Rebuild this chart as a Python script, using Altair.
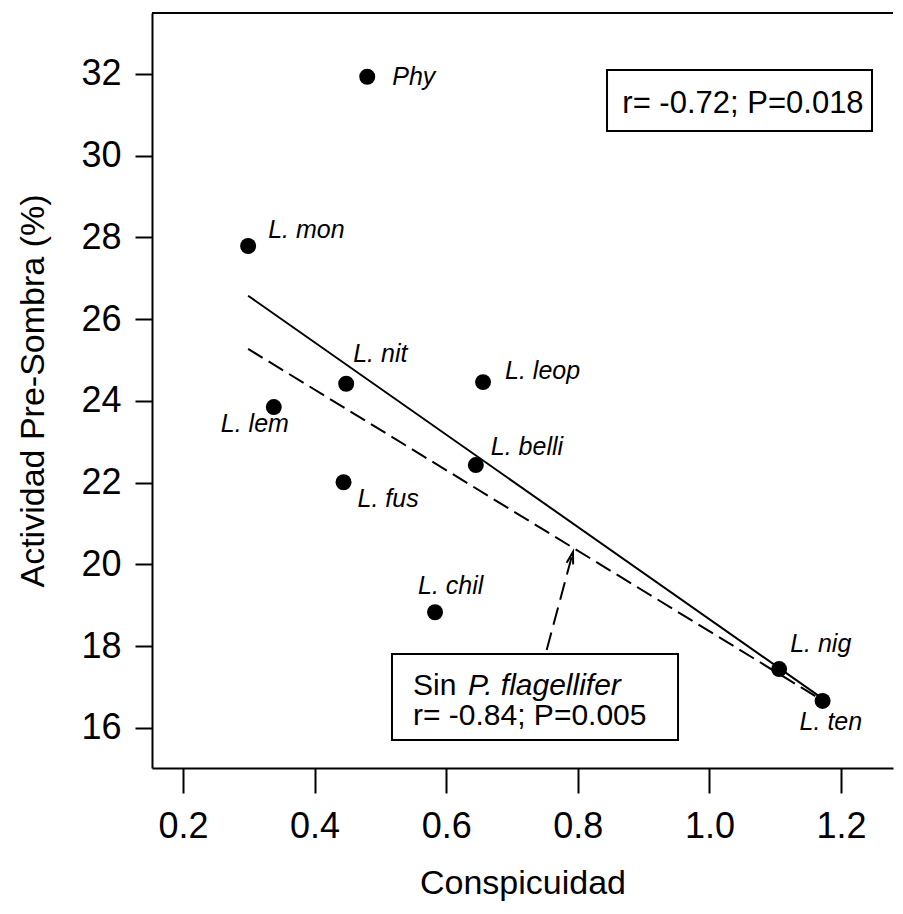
import altair as alt
import pandas as pd

# ---- data ----
species = ["Phy", "L. mon", "L. nit", "L. leop", "L. lem", "L. belli",
           "L. fus", "L. chil", "L. nig", "L. ten"]
conspicuidad = [0.480, 0.299, 0.448, 0.656, 0.338, 0.645, 0.444, 0.583, 1.106, 1.172]
actividad = [31.93, 27.79, 24.42, 24.46, 23.85, 22.43, 22.01, 18.83, 17.44, 16.66]

x_ticks = [0.2, 0.4, 0.6, 0.8, 1.0, 1.2]
y_ticks = [16, 18, 20, 22, 24, 26, 28, 30, 32]

stat_all = "r= -0.72; P=0.018"
stat_sin_1a = "Sin"
stat_sin_1b = "P. flagellifer"
stat_sin_2 = "r= -0.84; P=0.005"

# label offsets (pixels) relative to each point: (dx, dy)
label_offsets = {
    "Phy": (25, 8), "L. mon": (20, -8), "L. nit": (7, -22), "L. leop": (22, -3),
    "L. lem": (-53, 25), "L. belli": (15, -10), "L. fus": (14, 25),
    "L. chil": (-17, -18), "L. nig": (11, -17), "L. ten": (-23, 29),
}

df = pd.DataFrame({"sp": species, "x": conspicuidad, "y": actividad})

FONT = "Liberation Sans"
XDOM = [0.1529, 1.279]
YDOM = [15.02, 33.49]

xs = alt.Scale(domain=XDOM, nice=False, zero=False)
ys = alt.Scale(domain=YDOM, nice=False, zero=False)

X = alt.X("x:Q", scale=xs, axis=alt.Axis(
    title="Conspicuidad", values=x_ticks, format=".1f", tickSize=25,
    labelFontSize=36, labelPadding=16, titleFontSize=34, titlePadding=22,
    titleFontWeight="normal"))
Y = alt.Y("y:Q", scale=ys, axis=alt.Axis(
    title="Actividad Pre-Sombra (%)", values=y_ticks, format="d", tickSize=17,
    labelFontSize=36, labelPadding=14, titleFontSize=34, titlePadding=30,
    titleFontWeight="normal"))

base = alt.Chart(df)

points = base.mark_circle(size=255, color="black", opacity=1).encode(x=X, y=Y)

solid = base.transform_regression("x", "y", method="linear").mark_line(
    color="black", strokeWidth=2).encode(x=alt.X("x:Q", scale=xs), y=alt.Y("y:Q", scale=ys))

dashed = base.transform_filter(alt.datum.sp != "Phy").transform_regression(
    "x", "y", method="linear").mark_line(
    color="black", strokeWidth=2, strokeDash=[17, 7]).encode(
    x=alt.X("x:Q", scale=xs), y=alt.Y("y:Q", scale=ys))

labels = []
for s in species:
    dx, dy = label_offsets[s]
    labels.append(
        base.transform_filter(alt.datum.sp == s).mark_text(
            align="left", baseline="alphabetic", dx=dx, dy=dy, font=FONT,
            fontSize=25, fontStyle="italic", color="black").encode(
            x=alt.X("x:Q", scale=xs), y=alt.Y("y:Q", scale=ys), text="sp:N"))

one = pd.DataFrame({"a": [0]})
ann = alt.Chart(one)

top_border = ann.mark_rule(color="black", strokeWidth=2).encode(
    x=alt.value(0), x2=alt.value(741), y=alt.value(0))

box1 = ann.mark_rect(fill="white", stroke="black", strokeWidth=2).encode(
    x=alt.datum(0.8444, scale=xs), x2=alt.datum(1.2471),
    y=alt.datum(32.098, scale=ys), y2=alt.datum(30.606))
txt1 = ann.mark_text(align="center", baseline="alphabetic", font=FONT,
                     fontSize=31, color="black", text=stat_all).encode(
    x=alt.datum(1.051, scale=xs), y=alt.datum(31.046, scale=ys))

box2 = ann.mark_rect(fill="white", stroke="black", strokeWidth=2).encode(
    x=alt.datum(0.5176, scale=xs), x2=alt.datum(0.9523),
    y=alt.datum(17.81, scale=ys), y2=alt.datum(15.707))
txt2a = ann.mark_text(align="left", baseline="alphabetic", font=FONT,
                      fontSize=30, color="black", text=stat_sin_1a).encode(
    x=alt.datum(0.5495, scale=xs), y=alt.datum(16.807, scale=ys))
txt2b = ann.mark_text(align="left", baseline="alphabetic", font=FONT,
                      fontSize=30, fontStyle="italic", color="black",
                      text=stat_sin_1b).encode(
    x=alt.datum(0.6331, scale=xs), y=alt.datum(16.807, scale=ys))
txt2c = ann.mark_text(align="left", baseline="alphabetic", font=FONT,
                      fontSize=30, color="black", text=stat_sin_2).encode(
    x=alt.datum(0.5495, scale=xs), y=alt.datum(16.073, scale=ys))

arrow_df = pd.DataFrame({"x": [0.7527, 0.7927], "y": [17.908, 20.306]})
arrow_line = alt.Chart(arrow_df).mark_line(
    color="black", strokeWidth=2, strokeDash=[18, 8]).encode(
    x=alt.X("x:Q", scale=xs), y=alt.Y("y:Q", scale=ys))
arrow_head = ann.mark_point(
    shape="M-0.28,1 L0,0 L0.28,1", size=576, filled=False, color="black",
    strokeWidth=2, angle=15, opacity=1).encode(
    x=alt.datum(0.7927, scale=xs), y=alt.datum(20.306, scale=ys))

chart = alt.layer(
    solid, dashed, arrow_line, arrow_head, points, *labels, top_border,
    box1, txt1, box2, txt2a, txt2b, txt2c
).properties(
    width=741, height=755,
    padding={"left": 144, "top": 5, "right": 2, "bottom": 138},
    autosize="none",
    background="white",
).configure_view(stroke=None).configure_axis(
    grid=False, domainColor="black", domainWidth=2, tickColor="black",
    tickWidth=2, labelColor="black", titleColor="black", labelFont=FONT,
    titleFont=FONT,
)

chart.save("out.html", embed_options={"renderer": "svg", "actions": False})
